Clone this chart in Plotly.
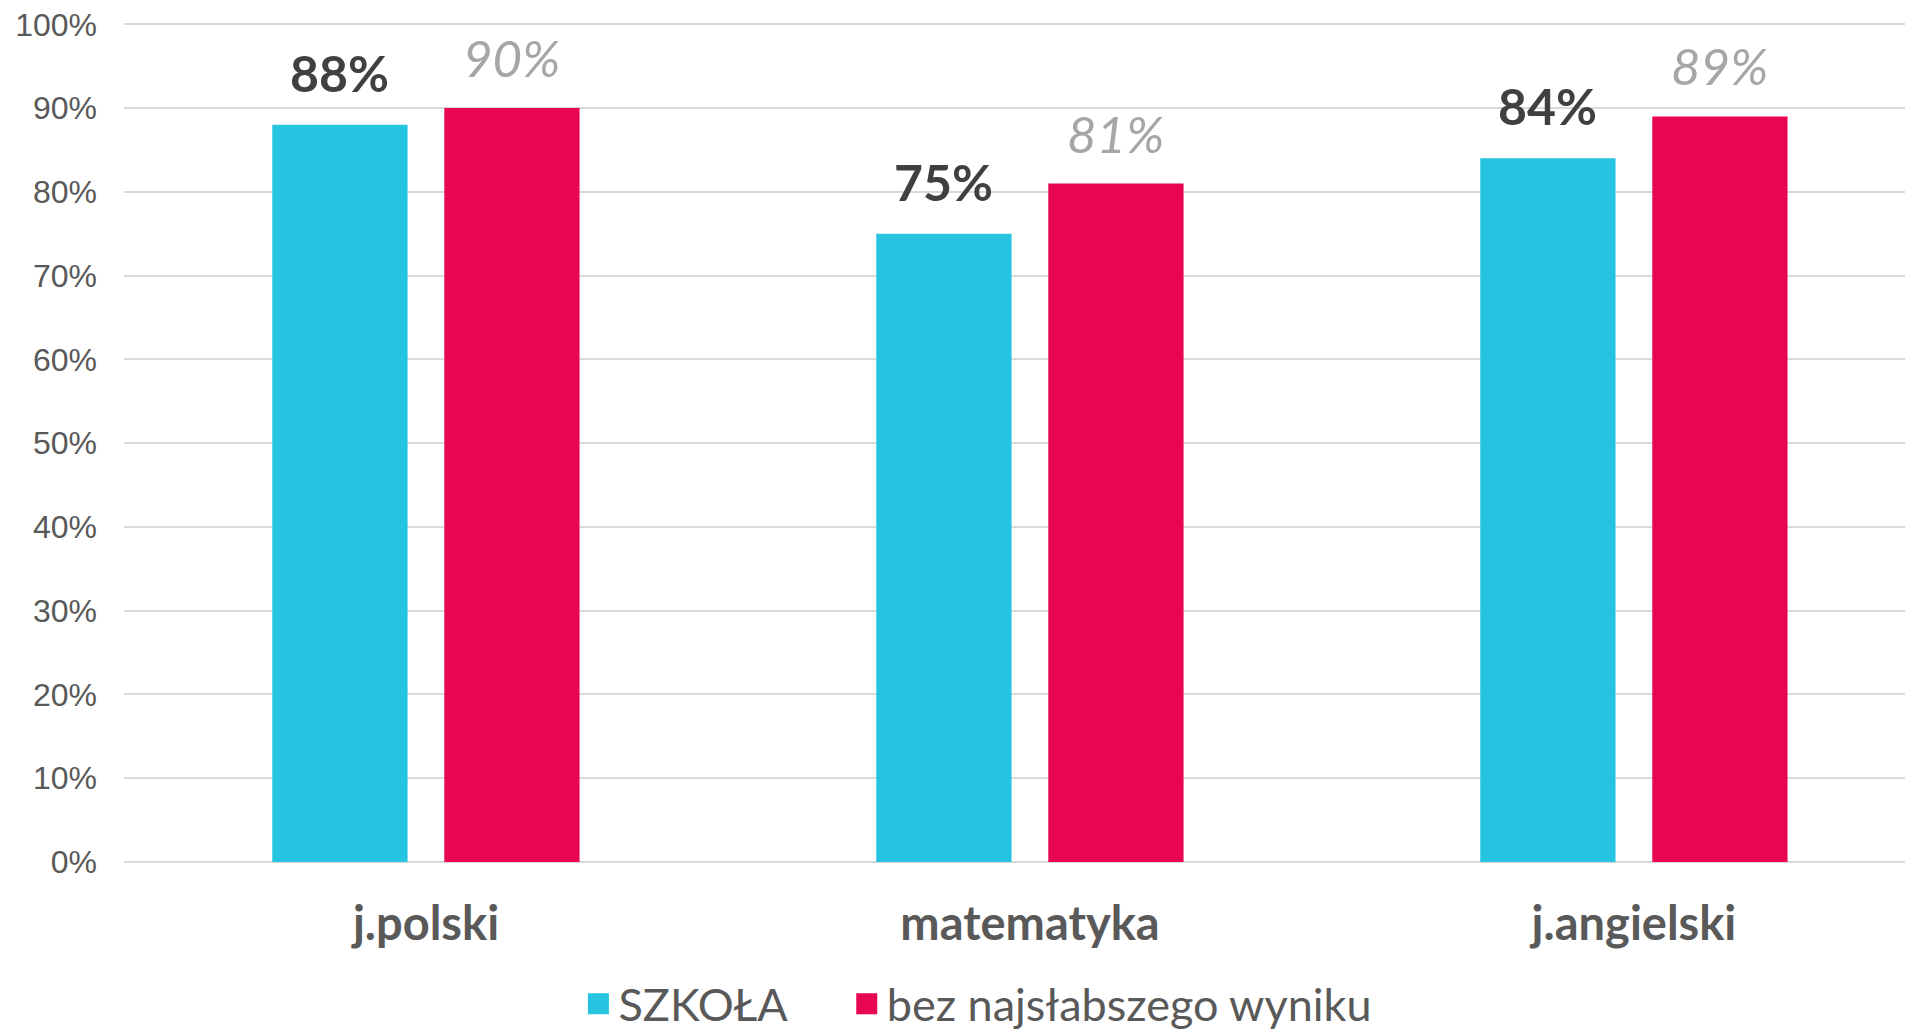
import plotly.graph_objects as go

categories = ["j.polski", "matematyka", "j.angielski"]
szkola = [0.88, 0.75, 0.84]
bez = [0.90, 0.81, 0.89]
series_names = ["SZKOŁA", "bez najsłabszego wyniku"]
colors = ["#25C5E2", "#E80652"]
tick_vals = [i / 10 for i in range(11)]
tick_text = [f"{i*10}%" for i in range(11)]

bar_w = 0.224
offsets = [-0.2545, 0.0303]
legend_ids = ["legend", "legend2"]

fig = go.Figure()
for vals, name, col, off, lg in zip([szkola, bez], series_names, colors, offsets, legend_ids):
    fig.add_trace(go.Bar(x=categories, y=vals, name=name, marker_color=col,
                         width=bar_w, offset=off, showlegend=False,
                         marker_line_width=0))
    fig.add_trace(go.Scatter(x=[None], y=[None], mode="markers", name=name,
                             legend=lg,
                             marker=dict(symbol="square", size=16, color=col,
                                         line=dict(color=col, width=5))))

annotations = []
label_styles = [
    dict(family="Lato", size=50, color="#404040", weight="bold", style="normal"),
    dict(family="Lato", size=51, color="#A6A6A6", weight="normal", style="italic"),
]
for s, (vals, off) in enumerate(zip([szkola, bez], offsets)):
    for i, v in enumerate(vals):
        annotations.append(dict(
            x=i + off + bar_w / 2, y=v, xref="x", yref="y",
            text=f"{round(v*100)}%", showarrow=False,
            yanchor="bottom", xanchor="center", yshift=20 if s == 0 else 18,
            font=label_styles[s]))

legend_font = dict(family="Lato", size=45, color="#595959")

fig.update_layout(
    width=1905, height=1022,
    margin=dict(l=116, r=0, t=13, b=168, autoexpand=False),
    plot_bgcolor="white", paper_bgcolor="white",
    barmode="overlay",
    annotations=annotations,
    xaxis=dict(range=[-0.5, 2.462], showgrid=False, zeroline=False,
               showline=False, ticks="",
               tickfont=dict(family="Lato", size=47, color="#595959", weight="bold"),
               ticklabelstandoff=30),
    yaxis=dict(range=[0, 1.004], tickvals=tick_vals, ticktext=tick_text,
               showgrid=True, gridcolor="#D9D9D9", gridwidth=2,
               zeroline=True, zerolinecolor="#D9D9D9", zerolinewidth=2,
               showline=False, ticklabeloverflow="allow",
               tickfont=dict(family="Liberation Sans", size=32, color="#595959"),
               ticklabelstandoff=26),
    legend=dict(orientation="h", x=0.254, xanchor="left", y=-0.1689, yanchor="middle",
                font=legend_font, itemwidth=30),
    legend2=dict(orientation="h", x=0.404, xanchor="left", y=-0.1689, yanchor="middle",
                 font=legend_font, itemwidth=30),
)

fig.write_html("out.html")
